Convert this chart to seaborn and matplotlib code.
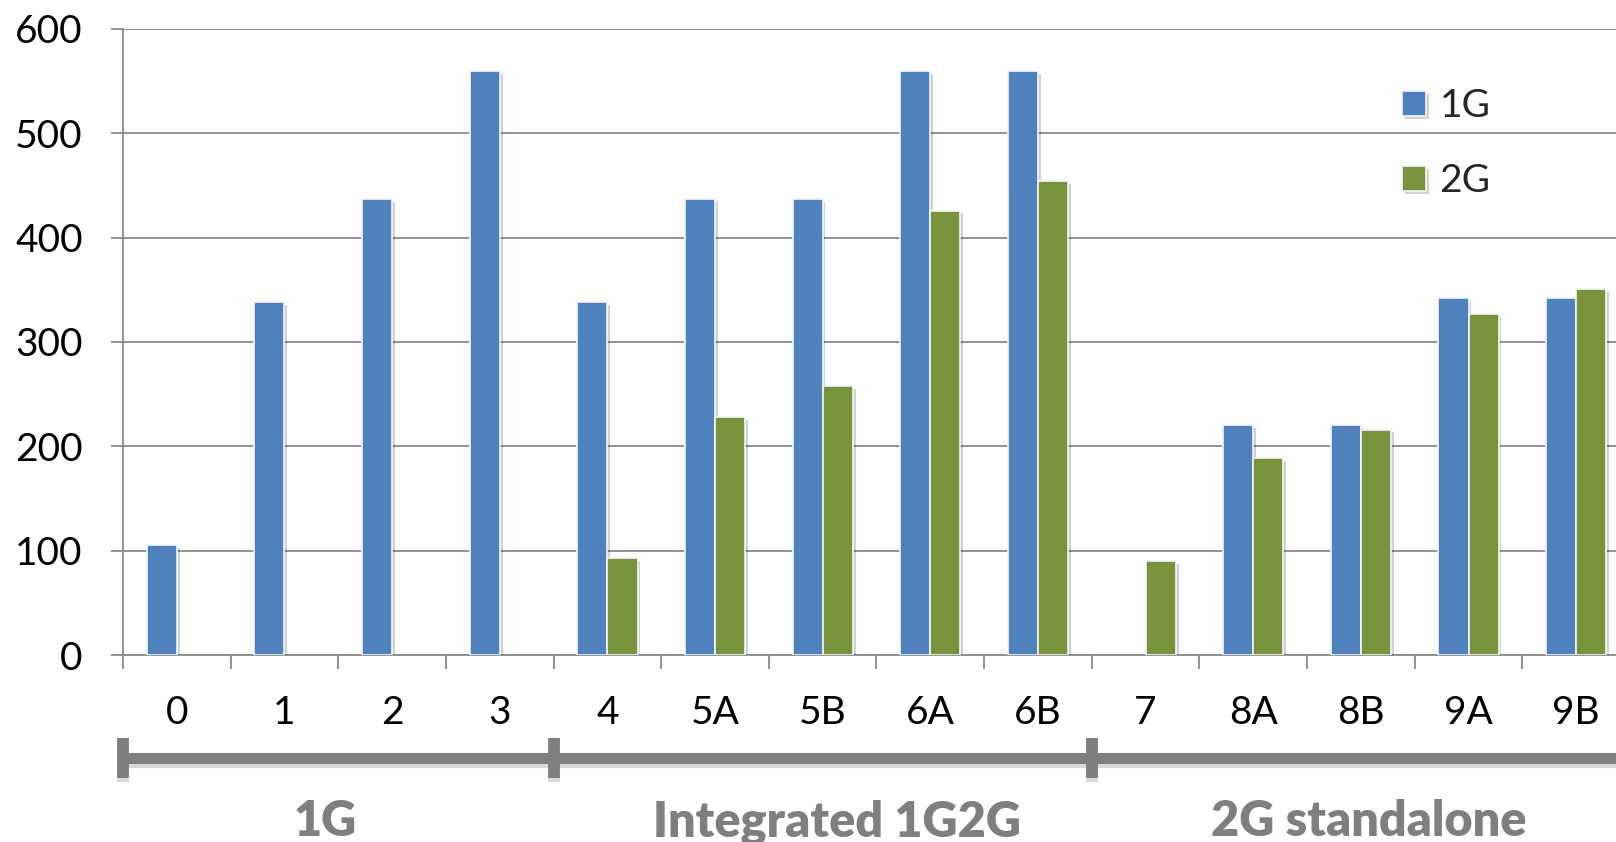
import numpy as np
import pandas as pd
import matplotlib
matplotlib.use("Agg")
import matplotlib.pyplot as plt
import matplotlib.patheffects as pe
import matplotlib.transforms as mtransforms
from matplotlib.ticker import FixedLocator
import seaborn as sns

# Scenario labels and capacities
scenarios = ["0", "1", "2", "3", "4", "5A", "5B", "6A", "6B", "7", "8A", "8B", "9A", "9B"]
values_1g = [105, 338, 437, 560, 338, 437, 437, 560, 560, np.nan, 220, 220, 342, 342]
values_2g = [np.nan, np.nan, np.nan, np.nan, 93, 228, 258, 426, 454, 90, 189, 216, 327, 351]
series_names = ["1G", "2G"]

# Scenario groups: label, first index, last index
group_labels = ["1G", "Integrated 1G2G", "2G standalone"]
group_bounds = [(0, 3), (4, 8), (9, 13)]

df = pd.DataFrame({
    "scenario": scenarios * 2,
    "value": values_1g + values_2g,
    "series": [series_names[0]] * len(scenarios) + [series_names[1]] * len(scenarios),
})

sns.set_theme(style="white")
plt.rcParams["font.family"] = ["Lato", "DejaVu Sans"]

W, H, DPI = 1616, 842, 100
fig = plt.figure(figsize=(W / DPI, H / DPI), dpi=DPI)
ax = fig.add_axes([123 / W, (H - 655) / H, 1507 / W, 626 / H])

grid_col = "#8a8a8a"
sns.barplot(
    data=df, x="scenario", y="value", hue="series",
    order=scenarios, hue_order=series_names,
    palette=["#4F81BD", "#77933C"], saturation=1,
    width=0.56, edgecolor="#f4f6fa", linewidth=1.2,
    ax=ax, zorder=3,
)
for p in ax.patches:
    p.set_path_effects([pe.SimplePatchShadow(offset=(2, -2), shadow_rgbFace="#000000", alpha=0.18), pe.Normal()])

ax.set_xlim(-0.5, len(scenarios) - 0.5)
ax.set_ylim(0, 600)
ax.set_yticks(np.arange(0, 601, 100))
ax.yaxis.grid(True, color=grid_col, linewidth=1.3, zorder=0)
ax.xaxis.grid(False)
ax.set_xlabel("")
ax.set_ylabel("")

for s in ["top", "right"]:
    ax.spines[s].set_visible(False)
for s in ["left", "bottom"]:
    ax.spines[s].set_color(grid_col)
    ax.spines[s].set_linewidth(1.3)

ax.tick_params(axis="y", which="major", length=9, width=1.3, color=grid_col,
               labelsize=28, labelcolor="#000000", pad=20, left=True)
ax.tick_params(axis="x", which="major", length=0, labelsize=28, labelcolor="#000000", pad=29)
ax.xaxis.set_minor_locator(FixedLocator(np.arange(-0.5, len(scenarios), 1.0)))
ax.tick_params(axis="x", which="minor", length=10, width=1.3, color=grid_col, bottom=True)

# Legend at the upper right
leg = ax.legend(
    loc="upper left", bbox_to_anchor=(0.849, 0.905), frameon=False,
    fontsize=28, handlelength=0.6, handleheight=0.6, handletextpad=0.35,
    labelspacing=1.0, borderpad=0, borderaxespad=0,
)

# Group bracket below the axis
blend = mtransforms.blended_transform_factory(ax.transData, fig.transFigure)
bar_y = (H - 758) / H
bracket_col = "#7f7f7f"
shadow = [pe.SimpleLineShadow(offset=(0, -3), shadow_color="#000000", alpha=0.15), pe.Normal()]
ax.plot([-0.5, len(scenarios) + 0.5], [bar_y, bar_y], transform=blend, color=bracket_col,
        linewidth=8, solid_capstyle="butt", clip_on=False, path_effects=shadow, zorder=5)
cap_half = 20 / H
for first, last in group_bounds:
    xb = first - 0.5
    ax.plot([xb, xb], [bar_y - cap_half, bar_y + cap_half], transform=blend, color=bracket_col,
            linewidth=8.5, solid_capstyle="butt", clip_on=False, path_effects=shadow, zorder=6)

label_x = [1.38, 6.13, 11.07]
for lab, lx in zip(group_labels, label_x):
    ax.text(lx, 20 / H, lab, transform=blend, ha="center", va="center",
            fontsize=35, fontweight="heavy", color=bracket_col, clip_on=False)

fig.savefig("out.png", dpi=DPI)
